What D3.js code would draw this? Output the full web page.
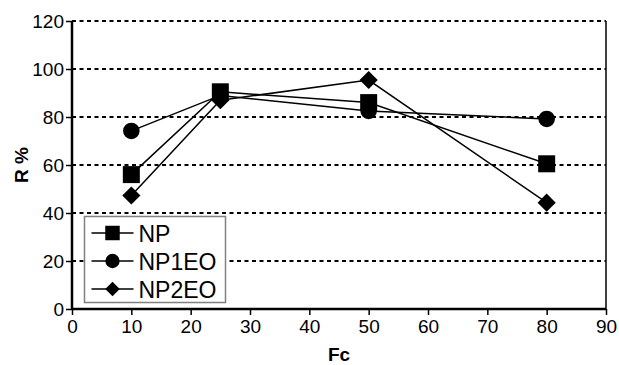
<!DOCTYPE html>
<html>
<head>
<meta charset="utf-8">
<script src="https://cdn.jsdelivr.net/npm/d3@7"></script>
<style>
body { margin:0; background:#fff; }
svg { display:block; }
svg text { font-family:"Liberation Sans", Arial, Helvetica, sans-serif; }
</style>
</head>
<body>
<svg id="chart" width="619" height="365"></svg>
<script>
// données
var fc = [10, 25, 50, 80];
var np = [56, 90.5, 86, 60.5];
var np1eo = [74.2, 89, 82.5, 79.2];
var np2eo = [47.3, 87, 95.4, 44.3];
var xTicks = [0, 10, 20, 30, 40, 50, 60, 70, 80, 90];
var yTicks = [0, 20, 40, 60, 80, 100, 120];
var seriesNames = ["NP", "NP1EO", "NP2EO"];
var seriesSymbols = ["square", "circle", "diamond"];

var svg = d3.select("svg");
var margin = {top: 21, right: 13, bottom: 56, left: 72},
    width = +svg.attr("width") - margin.left - margin.right,
    height = +svg.attr("height") - margin.top - margin.bottom,
    g = svg.append("g").attr("transform", "translate(" + margin.left + "," + margin.top + ")");

var x = d3.scaleLinear().domain([0, 90]).range([0, width]);
var y = d3.scaleLinear().domain([0, 120]).range([height, 0]);

// grille pointillée
g.selectAll(".grid")
    .data(yTicks.filter(function(d) { return d > 0; }))
    .enter().append("line")
    .attr("class", "grid")
    .attr("x1", 0).attr("x2", width)
    .attr("y1", function(d) { return y(d); })
    .attr("y2", function(d) { return y(d); })
    .attr("stroke", "#000")
    .attr("stroke-width", 2)
    .attr("stroke-dasharray", "4,3.5");

// bord droit
g.append("line")
    .attr("x1", width).attr("x2", width)
    .attr("y1", 0).attr("y2", height)
    .attr("stroke", "#000").attr("stroke-width", 1.5);

var xAxis = g.append("g")
    .attr("transform", "translate(0," + height + ")")
    .call(d3.axisBottom(x).tickValues(xTicks).tickSize(6).tickPadding(5));
var yAxis = g.append("g")
    .call(d3.axisLeft(y).tickValues(yTicks).tickSize(6).tickPadding(2));
[xAxis, yAxis].forEach(function(a) {
    a.attr("font-family", null);
    a.select(".domain").attr("stroke-width", 2.5);
    a.selectAll(".tick line").attr("stroke-width", 1.5);
    a.selectAll("text").style("font-size", "19px").attr("fill", "#000");
});
yAxis.select(".domain").attr("d", "M0," + height + "V0");
xAxis.select(".domain").attr("d", "M0,0H" + width);

svg.append("text")
    .attr("transform", "translate(28," + (margin.top + y(60)) + ") rotate(-90)")
    .attr("text-anchor", "middle")
    .style("font-size", "19px").style("font-weight", "bold")
    .text("R %");
svg.append("text")
    .attr("x", margin.left + x(45)).attr("y", 361)
    .attr("text-anchor", "middle")
    .style("font-size", "19px").style("font-weight", "bold")
    .text("Fc");

// losange = carré tourné de 45°
var symbolTypes = {square: d3.symbolSquare, circle: d3.symbolCircle, diamond: d3.symbolSquare};
var rotation = {square: 0, circle: 0, diamond: 45};
var sizes = {square: 289, circle: 215, diamond: 165};
var legendSizes = {square: 210, circle: 160, diamond: 105};

var series = [np, np1eo, np2eo].map(function(v, i) {
    return {name: seriesNames[i], sym: seriesSymbols[i], values: v.map(function(d, j) { return {x: fc[j], y: d}; })};
});

var line = d3.line().x(function(d) { return x(d.x); }).y(function(d) { return y(d.y); });

// NP tracé en dernier (au dessus)
var drawOrder = [series[2], series[1], series[0]];
drawOrder.forEach(function(s) {
    g.append("path")
        .datum(s.values)
        .attr("d", line)
        .attr("fill", "none")
        .attr("stroke", "#000")
        .attr("stroke-width", 1.5);
    g.selectAll(".pt-" + s.sym)
        .data(s.values)
        .enter().append("path")
        .attr("class", "pt-" + s.sym)
        .attr("transform", function(d) { return "translate(" + x(d.x) + "," + y(d.y) + ") rotate(" + rotation[s.sym] + ")"; })
        .attr("d", d3.symbol().type(symbolTypes[s.sym]).size(sizes[s.sym]))
        .attr("fill", "#000");
});

// légende
var legend = svg.append("g").attr("transform", "translate(84.5,216.5)");
legend.append("rect")
    .attr("width", 141).attr("height", 86)
    .attr("fill", "#fff")
    .attr("stroke", "#808080").attr("stroke-width", 1.5);
series.forEach(function(s, i) {
    var row = legend.append("g").attr("transform", "translate(0," + (16.5 + i * 28) + ")");
    row.append("line")
        .attr("x1", 7).attr("x2", 49)
        .attr("stroke", "#000").attr("stroke-width", 1.5);
    row.append("path")
        .attr("transform", "translate(28,0) rotate(" + rotation[s.sym] + ")")
        .attr("d", d3.symbol().type(symbolTypes[s.sym]).size(legendSizes[s.sym]))
        .attr("fill", "#000");
    row.append("text")
        .attr("x", 54).attr("y", 8.5)
        .style("font-size", "23px")
        .text(s.name);
});
</script>
</body>
</html>
